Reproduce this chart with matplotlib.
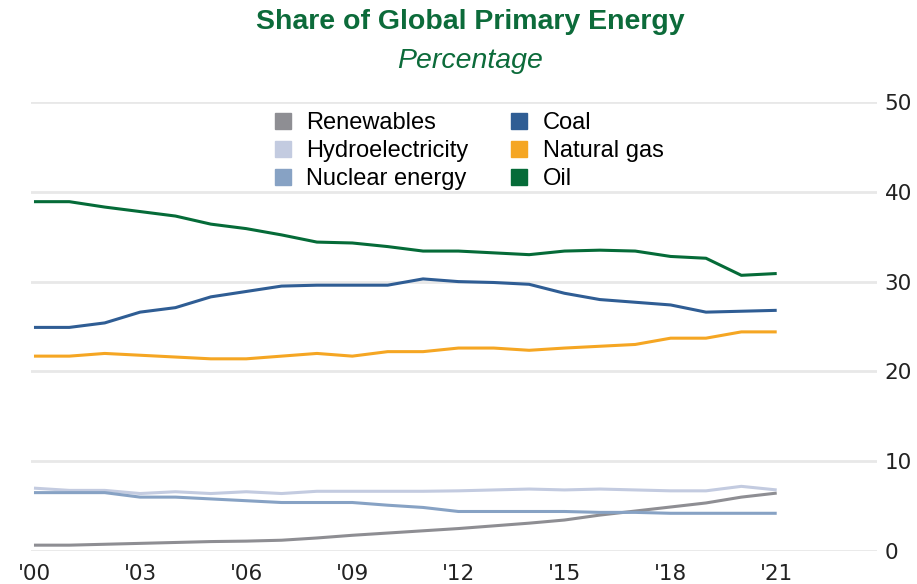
import matplotlib
matplotlib.use("Agg")
import matplotlib.pyplot as plt
from matplotlib.lines import Line2D

plt.rcParams['font.family'] = ['Liberation Sans', 'DejaVu Sans']

years = list(range(2000, 2022))
renewables = [0.65, 0.65, 0.75, 0.85, 0.95, 1.05, 1.1, 1.2, 1.45, 1.75, 2.0, 2.25,
              2.5, 2.8, 3.1, 3.45, 4.0, 4.45, 4.9, 5.35, 6.0, 6.45]
hydro = [7.0, 6.75, 6.75, 6.4, 6.6, 6.4, 6.6, 6.4, 6.65, 6.65, 6.65, 6.65,
         6.7, 6.8, 6.9, 6.8, 6.9, 6.8, 6.7, 6.7, 7.2, 6.8]
nuclear = [6.5, 6.5, 6.5, 6.0, 6.0, 5.8, 5.6, 5.4, 5.4, 5.4, 5.1, 4.85,
           4.4, 4.4, 4.4, 4.4, 4.3, 4.3, 4.2, 4.2, 4.2, 4.2]
coal = [24.9, 24.9, 25.4, 26.6, 27.1, 28.3, 28.9, 29.5, 29.6, 29.6, 29.6, 30.3,
        30.0, 29.9, 29.7, 28.7, 28.0, 27.7, 27.4, 26.6, 26.7, 26.8]
gas = [21.7, 21.7, 22.0, 21.8, 21.6, 21.4, 21.4, 21.7, 22.0, 21.7, 22.2, 22.2,
       22.6, 22.6, 22.35, 22.6, 22.8, 23.0, 23.7, 23.7, 24.4, 24.4]
oil = [38.9, 38.9, 38.3, 37.8, 37.3, 36.4, 35.9, 35.2, 34.4, 34.3, 33.9, 33.4,
       33.4, 33.2, 33.0, 33.4, 33.5, 33.4, 32.8, 32.6, 30.7, 30.9]

x_ticks = [2000, 2003, 2006, 2009, 2012, 2015, 2018, 2021]
x_labels = ["'00", "'03", "'06", "'09", "'12", "'15", "'18", "'21"]
y_ticks = [0, 10, 20, 30, 40, 50]

series = [
    ("Renewables", renewables, "#8e8e93"),
    ("Hydroelectricity", hydro, "#c3cbe0"),
    ("Nuclear energy", nuclear, "#87a2c4"),
    ("Coal", coal, "#2f5d94"),
    ("Natural gas", gas, "#f5a623"),
    ("Oil", oil, "#056b38"),
]

W, H = 917, 584
fig = plt.figure(figsize=(W / 100, H / 100), dpi=100)
ax = fig.add_axes([31 / W, 33 / H, (877 - 31) / W, (551 - 102) / H])

for name, vals, col in series:
    ax.plot(years, vals, color=col, lw=2.2, clip_on=False, solid_capstyle='butt')

step = (776 - 28) / 21
ax.set_xlim(2000 - 3 / step, 2000 + (877 - 28) / step)
ax.set_ylim(0, 50)
ax.set_yticks(y_ticks)
ax.set_xticks(x_ticks)
ax.set_xticklabels(x_labels)
ax.yaxis.tick_right()
ax.tick_params(axis='both', length=0, colors='#222222')
for lab in ax.get_xticklabels() + ax.get_yticklabels():
    lab.set_family('DejaVu Sans')
    lab.set_fontsize(15.5)
ax.tick_params(axis='y', pad=5.5)
ax.tick_params(axis='x', pad=9)
ax.grid(axis='y', color='#e8e8e8', lw=2)
ax.set_axisbelow(True)
for s in ax.spines.values():
    s.set_visible(False)

handles = [Line2D([], [], marker='s', ls='none', color=c, markersize=11.5)
           for _, _, c in series]
fig.legend(handles, [n for n, _, _ in series], ncol=2, frameon=False,
           loc='upper left', bbox_to_anchor=(259 / W, 1 - 103 / H),
           fontsize=17, handletextpad=0.4, columnspacing=1.55,
           labelspacing=0.25, borderaxespad=0, handlelength=1.2)

fig.text(470 / W, 1 - 22 / H, "Share of Global Primary Energy", ha='center',
         va='center', fontsize=20.5, fontweight='bold', color='#0c6b3a')
fig.text(470 / W, 1 - 61 / H, "Percentage", ha='center', va='center',
         fontsize=20.5, style='italic', color='#0c6b3a')

fig.savefig("out.png", dpi=100)
